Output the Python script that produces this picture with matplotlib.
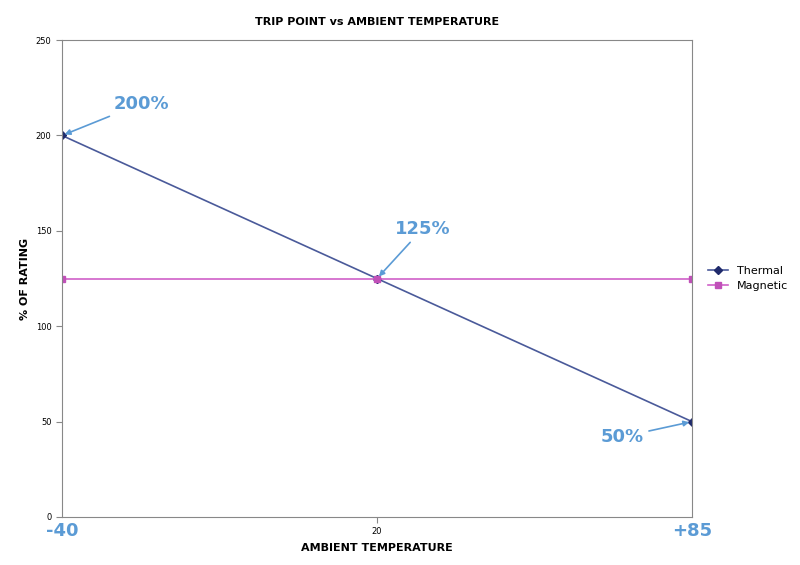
import matplotlib
matplotlib.use("Agg")
import matplotlib.pyplot as plt

temps = ["-40", "20", "+85"]
thermal = [200, 125, 50]
magnetic = [125, 125, 125]
yticks = [0, 50, 100, 150, 200, 250]

fig = plt.figure(figsize=(8, 5.65), dpi=100)
ax = fig.add_axes([0.0775, 0.085, 0.7875, 0.844])
x = list(range(len(temps)))
ax.plot(x, thermal, color="#4a5a9a", lw=1.2, marker="D", ms=4, mfc="#1f2a6b", mec="#1f2a6b", label="Thermal")
ax.plot(x, magnetic, color="#d060c8", lw=1.2, marker="s", ms=4, mfc="#c050b8", mec="#c050b8", label="Magnetic")
ax.set_xlim(0, 2)
ax.set_ylim(0, 250)
ax.set_yticks(yticks)
ax.set_xticks([1])
ax.set_xticklabels([temps[1]])
ax.tick_params(labelsize=6, length=4, color="#888888")
for s in ax.spines.values():
    s.set_color("#888888")
    s.set_linewidth(0.8)
ax.set_title("TRIP POINT vs AMBIENT TEMPERATURE", fontsize=8, fontweight="bold", pad=11)
ax.set_xlabel("AMBIENT TEMPERATURE", fontsize=8, fontweight="bold", labelpad=5)
ax.set_ylabel("% OF RATING", fontsize=8, fontweight="bold")

blue = "#5b9bd5"
ax.annotate(temps[0], xy=(0, 0), xytext=(0, -10), textcoords="offset points", ha="center", va="center",
            fontsize=13, fontweight="bold", color=blue, annotation_clip=False)
ax.annotate(temps[2], xy=(2, 0), xytext=(0, -10), textcoords="offset points", ha="center", va="center",
            fontsize=13, fontweight="bold", color=blue, annotation_clip=False)
ap = dict(arrowstyle="-|>", color=blue, lw=1.2, mutation_scale=8)
ax.annotate(f"{thermal[0]}%", xy=(0, thermal[0]), xytext=(37, 23), textcoords="offset points",
            fontsize=13, fontweight="bold", color=blue, ha="left", va="center", arrowprops=ap,
            annotation_clip=False)
ax.annotate(f"{thermal[1]}%", xy=(1, thermal[1]), xytext=(13, 36), textcoords="offset points",
            fontsize=13, fontweight="bold", color=blue, ha="left", va="center", arrowprops=ap)
ax.annotate(f"{thermal[2]}%", xy=(2, thermal[2]), xytext=(-66, -11), textcoords="offset points",
            fontsize=13, fontweight="bold", color=blue, ha="left", va="center", arrowprops=ap)

ax.legend(loc="center left", bbox_to_anchor=(1.01, 0.5), frameon=False, fontsize=8, handlelength=1.8)
fig.savefig("out.png", dpi=100)
